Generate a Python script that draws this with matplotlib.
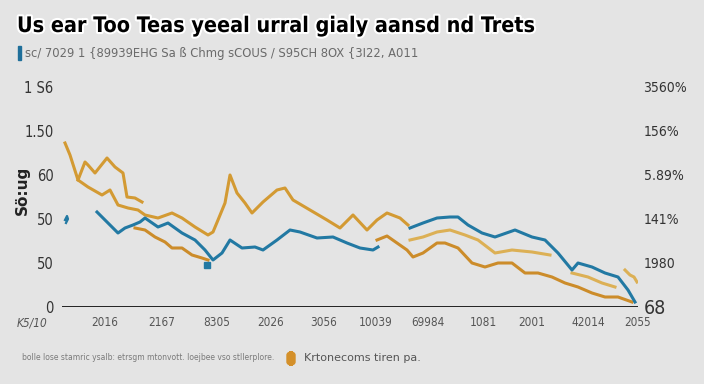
import numpy as np
from matplotlib import pyplot as plt
import matplotlib.patheffects as pe
from matplotlib.patches import FancyBboxPatch, Rectangle

# data (x = week index, y = left-axis units)
gold_a_x = [3, 8, 16, 26, 40, 48, 56, 66, 76, 83, 96, 110, 120, 133, 146, 151, 156, 163, 168, 175,
            183, 190, 201, 215, 223, 231, 248, 265, 278, 291, 305, 315, 325, 338, 346]
gold_a_y = [164, 152, 127, 120, 112, 117, 102, 99, 97, 92, 89, 94, 89, 80, 72, 75, 87, 104, 132, 114,
            104, 94, 105, 117, 119, 107, 97, 87, 79, 92, 77, 87, 94, 89, 82]
gold_loop_x = [16, 23, 26, 33, 45, 53, 61, 65, 73, 80]
gold_loop_y = [127, 145, 142, 134, 149, 140, 134, 110, 109, 105]

gold_b1_x = [73, 83, 93, 103, 110, 120, 130, 140, 146]
gold_b1_y = [79, 77, 70, 65, 59, 59, 52, 49, 47]
gold_b2_x = [315, 325, 335, 345, 351, 361, 375, 383, 396, 410, 423, 436, 450, 463, 476, 490, 503,
             516, 530, 543, 556, 570]
gold_b2_y = [67, 71, 64, 57, 50, 54, 64, 64, 59, 44, 40, 44, 44, 34, 34, 30, 24, 20, 14, 10, 10, 5]

gold_c1_x = [348, 361, 375, 388, 403, 416, 433, 450, 470, 488]
gold_c1_y = [67, 70, 75, 77, 72, 67, 54, 57, 55, 52]
gold_c2_x = [510, 526, 540, 553]
gold_c2_y = [34, 30, 24, 20]
gold_c3_x = [563, 568, 572, 575]
gold_c3_y = [37, 32, 30, 25]

blue0_x = [4, 6, 5, 3]
blue0_y = [84, 88, 91, 87]
blue1_x = [35, 43, 56, 63, 71, 78, 83, 96, 106, 120, 133, 143, 151, 160, 168, 180, 193, 201, 215,
           228, 238, 255, 271, 285, 298, 311, 316]
blue1_y = [95, 87, 74, 79, 82, 85, 89, 80, 84, 74, 67, 57, 47, 54, 67, 59, 60, 57, 67, 77, 75, 69,
           70, 64, 59, 57, 60]
blue2_x = [348, 361, 375, 388, 396, 406, 420, 433, 453, 470, 483, 496, 510, 516, 530, 543, 556,
           566, 573]
blue2_y = [79, 84, 89, 90, 90, 82, 74, 70, 77, 70, 67, 54, 37, 44, 40, 34, 30, 17, 5]

left_ticks = [0, 44, 88, 132, 176, 220]
left_labels = ["0", "50", "50", "60", "1.50", "1 S6"]
right_labels = ["68", "1980", "141%", "5.89%", "156%", "3560%"]
x_ticks = [-30, 43, 100, 155, 209, 262, 314, 366, 421, 470, 526, 576]
x_labels = ["K5/10", "2016", "2167", "8305", "2026", "3056", "10039", "69984", "1081", "2001",
            "42014", "2055"]

bg = "#e4e4e4"
blue = "#2279a3"
gold = "#d39a33"
gold_dk = "#cc8c2a"
gold_lt = "#dcb055"

fig = plt.figure(figsize=(7.04, 3.84), dpi=100, facecolor=bg)
ax = fig.add_axes([62 / 704, 77 / 384, 576 / 704, 220 / 384], facecolor=bg)

lw = 2.2
ax.plot(gold_loop_x, gold_loop_y, color=gold, lw=lw)
ax.plot(gold_a_x, gold_a_y, color=gold, lw=lw)
ax.plot(gold_b1_x, gold_b1_y, color=gold_dk, lw=lw)
ax.plot(gold_b2_x, gold_b2_y, color=gold_dk, lw=lw)
ax.plot(gold_c1_x, gold_c1_y, color=gold_lt, lw=lw)
ax.plot(gold_c2_x, gold_c2_y, color=gold_lt, lw=lw)
ax.plot(gold_c3_x, gold_c3_y, color=gold_lt, lw=lw)
ax.plot(blue0_x, blue0_y, color=blue, lw=1.6)
ax.plot(blue1_x, blue1_y, color=blue, lw=lw)
ax.plot(blue2_x, blue2_y, color=blue, lw=lw)
ax.plot([145], [42], marker="s", ms=4, color=blue, ls="none")

ax.axhline(0, color="#111111", lw=2)
ax.set_xlim(0, 576)
ax.set_ylim(0, 220)
for s in ax.spines.values():
    s.set_visible(False)

ax.set_yticks(left_ticks)
ax.set_yticklabels(left_labels, fontsize=10.5, color="#333333", stretch="condensed")
ax.tick_params(axis="y", length=0, pad=6)
ax.set_xticks([])
for xt, lab in zip(x_ticks, x_labels):
    ax.text(xt, -9, lab, ha="center", va="top", fontsize=8.5, color="#555555",
            stretch="condensed", style="italic" if lab == "K5/10" else "normal", clip_on=False)

ax2 = ax.twinx()
ax2.set_ylim(0, 220)
ax2.set_yticks(left_ticks)
ax2.set_yticklabels(right_labels, fontsize=10, color="#333333", stretch="condensed")
ax2.get_yticklabels()[0].set_fontsize(14)
ax2.tick_params(axis="y", length=0, pad=4)
for s in ax2.spines.values():
    s.set_visible(False)

ax.text(-0.068, 0.53, "Sö:ug", rotation=90, transform=ax.transAxes, fontsize=11,
        fontweight="bold", ha="center", va="center", color="#222222")

# title block
t = fig.text(17 / 704, 1 - 26 / 384, "Us ear Too Teas yeeal urral gialy aansd nd Trets",
             fontsize=20, fontweight="bold", stretch="condensed", color="black",
             va="center", ha="left")
t.set_path_effects([pe.withStroke(linewidth=3, foreground="white")])
fig.patches.append(Rectangle((18 / 704, 1 - 60 / 384), 3 / 704, 14 / 384,
                             transform=fig.transFigure, color="#1f6f9a"))
sub = fig.text(25 / 704, 1 - 53 / 384,
               "sc/ 7029 1 {89939EHG Sa ß Chmg sCOUS / S95CH 8OX {3I22, A011",
               fontsize=9, color="#6a6a6a", va="center", ha="left", stretch="condensed")


def fit_width(txt, target_px):
    fig.canvas.draw()
    w = txt.get_window_extent().width
    txt.set_fontsize(txt.get_fontsize() * target_px / w)


fit_width(t, 518)
fit_width(sub, 395)

# footer
fig.text(22 / 704, 1 - 358 / 384,
         "bolle lose stamric ysalb: etrsgm mtonvott. Ioejbee vso stllerplore.",
         fontsize=5.5, color="#7a7a7a", va="center", ha="left")
fig.patches.append(FancyBboxPatch((287 / 704, 1 - 365 / 384), 8 / 704, 13 / 384,
                                  boxstyle="round,pad=0,rounding_size=0.008",
                                  transform=fig.transFigure, color="#d4902a"))
fig.text(304 / 704, 1 - 358 / 384, "Krtonecoms tiren pa.", fontsize=8, color="#555555",
         va="center", ha="left")

fig.savefig("out.png", dpi=100, facecolor=bg)
